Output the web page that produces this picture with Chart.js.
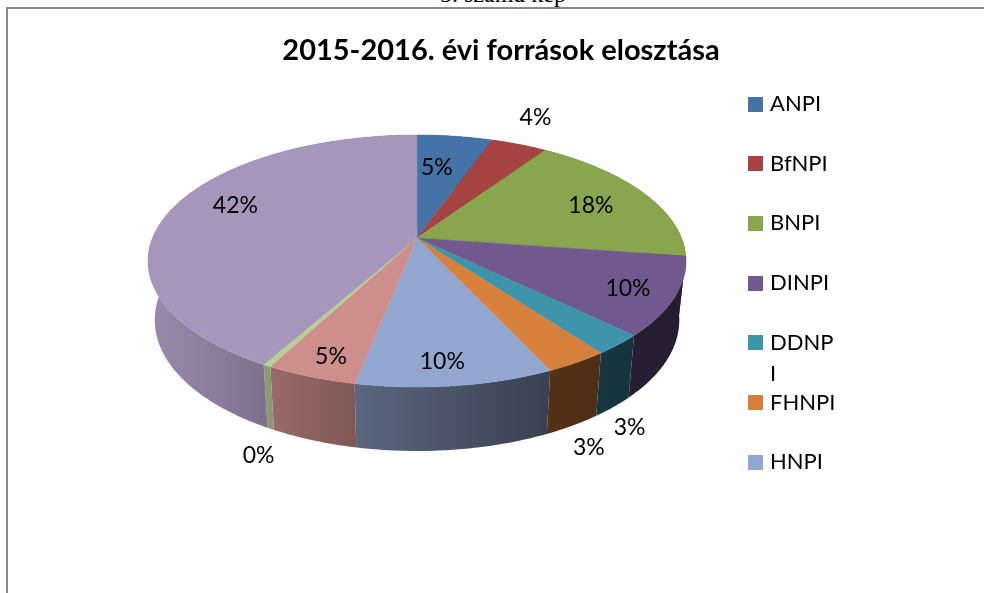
<!DOCTYPE html>
<html lang="hu">
<head>
<meta charset="utf-8">
<title>2015-2016. évi források elosztása</title>
<script src="https://cdn.jsdelivr.net/npm/chart.js@4/dist/chart.umd.min.js"></script>
<style>
  html,body{margin:0;padding:0;background:#fff;overflow:hidden;width:984px;height:593px}
  #caption{position:absolute;left:0;width:1006px;top:-20px;text-align:center;font:24px "Liberation Serif",serif;color:#000;line-height:28px}
  #frame{position:absolute;left:6px;top:7px;width:990px;height:600px;border-left:2px solid #8a8a8a;border-top:2px solid #8a8a8a}
  #wrap{position:absolute;left:0;top:0;width:1002px;height:593px}
</style>
</head>
<body>
<div id="caption">5. számú kép</div>
<div id="frame"></div>
<div id="wrap"><canvas id="chart" width="1002" height="593"></canvas></div>
<script>
// az ábrán csak az első 7 jelmagyarázat látszik
const labels = ['ANPI','BfNPI','BNPI','DINPI','DDNPI','FHNPI','HNPI','KMNPI','KNPI','ŐNPI'];
const values = [5.4, 4.0, 17.9, 10.0, 2.6, 3.2, 10.0, 4.6, 0.4, 41.9];
const colors = ['#4572a7','#a54442','#89a54e','#71588f','#3e94aa','#d6803c','#93a6cf','#cd8e8c','#b9cd96','#a796bb'];

// címke eltolása a szelet közepéhez képest (dx, dy)
const labelShift = [[-8,4],[44,-52],[13,0],[35,11],[78,118],[66,127],[0,27],[-16,27],[-59,133],[-8,-12]];

const LEGEND_SHOWN = 7;
const FONT = 'Lato, "Noto Sans", sans-serif';

// perspektivikus vetítés: kör -> ellipszis, a középpont feljebb esik
const PIE = {x:417, y:238, a:264.5, b:121.8, k:0.1825};
const SHADE = [[0,.93],[.23,.75],[.39,.62],[.75,.39],[1,.33]];

function project(angle, r){
  // a Chart.js szögei: -PI/2 felül, óramutató szerint
  const u = r*Math.cos(angle), v = r*Math.sin(angle);
  const w = 1 - PIE.k*v;
  return {x:PIE.x + PIE.a*u/w, y:PIE.y + PIE.b*v/w, v};
}

function projectBottom(angle){
  const p = project(angle, 1);
  return {x:PIE.x + (p.x-PIE.x)*0.975, y:p.y + 58 + 6*p.v};
}

function arcPoints(start, end, fn){
  const n = Math.max(2, Math.ceil((end-start)/0.01));
  const pts = [];
  for(let i=0;i<=n;i++) pts.push(fn(start + (end-start)*i/n));
  return pts;
}

function shaded(hex, f){
  const n = parseInt(hex.slice(1),16);
  return `rgb(${(n>>16)*f|0},${((n>>8)&255)*f|0},${(n&255)*f|0})`;
}

const pie3d = {
  id:'pie3d',
  beforeDatasetDraw(chart, args){
    const ctx = chart.ctx;
    const arcs = chart.getDatasetMeta(args.index).data;
    // oldalfal
    arcs.forEach((arc,i)=>{
      const top = arcPoints(arc.startAngle, arc.endAngle, a=>project(a,1));
      const bottom = arcPoints(arc.startAngle, arc.endAngle, projectBottom).reverse();
      const grad = ctx.createLinearGradient(147,0,685,0);
      SHADE.forEach(s=>grad.addColorStop(s[0], shaded(colors[i], s[1])));
      ctx.beginPath();
      top.concat(bottom).forEach((p,j)=> j ? ctx.lineTo(p.x,p.y) : ctx.moveTo(p.x,p.y));
      ctx.closePath();
      ctx.fillStyle = grad;
      ctx.fill();
    });
    // teteje
    arcs.forEach((arc,i)=>{
      ctx.beginPath();
      ctx.moveTo(PIE.x, PIE.y);
      arcPoints(arc.startAngle, arc.endAngle, a=>project(a,1)).forEach(p=>ctx.lineTo(p.x,p.y));
      ctx.closePath();
      ctx.fillStyle = colors[i];
      ctx.strokeStyle = colors[i];
      ctx.lineWidth = 0.5;
      ctx.fill();
      ctx.stroke();
    });
    return false;
  },
  afterDatasetsDraw(chart){
    const ctx = chart.ctx;
    const arcs = chart.getDatasetMeta(0).data;
    const total = values.reduce((s,v)=>s+v,0);
    ctx.save();
    ctx.font = '23px '+FONT;
    ctx.fillStyle = '#000';
    ctx.textAlign = 'center';
    ctx.textBaseline = 'middle';
    arcs.forEach((arc,i)=>{
      const p = project((arc.startAngle+arc.endAngle)/2, 0.7);
      ctx.fillText(Math.round(values[i]/total*100)+'%', p.x+labelShift[i][0], p.y+labelShift[i][1]);
    });
    ctx.restore();
  }
};

// jelmagyarázat: a keskeny oszlopban a hosszú felirat eltörik, a sorköz nem változik
const sideLegend = {
  id:'sideLegend',
  afterDraw(chart){
    const ctx = chart.ctx;
    ctx.save();
    ctx.font = '22px '+FONT;
    ctx.textBaseline = 'middle';
    labels.slice(0,LEGEND_SHOWN).forEach((text,i)=>{
      const y = 104 + i*59.7;
      ctx.fillStyle = colors[i];
      ctx.fillRect(748, Math.round(y-7.5), 15, 15);
      ctx.fillStyle = '#000';
      let line = text;
      while(ctx.measureText(line).width > 68) line = line.slice(0,-1);
      ctx.fillText(line, 770, y);
      if(line !== text) ctx.fillText(text.slice(line.length), 770, y+31);
    });
    ctx.restore();
  }
};

new Chart(document.getElementById('chart'), {
  type:'pie',
  data:{labels, datasets:[{data:values, backgroundColor:colors, borderWidth:0}]},
  options:{
    responsive:false,
    animation:false,
    plugins:{
      legend:{display:false},
      tooltip:{enabled:false},
      title:{
        display:true,
        text:'2015-2016. évi források elosztása',
        color:'#000',
        font:{family:FONT, size:29, weight:'bold'},
        padding:{top:33, bottom:10}
      }
    }
  },
  plugins:[pie3d, sideLegend]
});
</script>
</body>
</html>
